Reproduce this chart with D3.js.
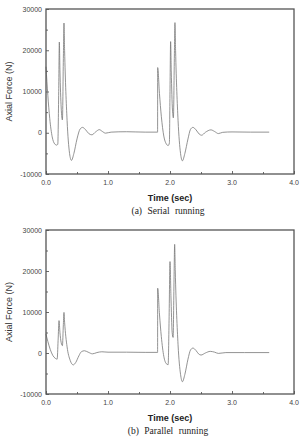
<!DOCTYPE html>
<html>
<head>
<meta charset="utf-8">
<script src="https://cdn.jsdelivr.net/npm/d3@7"></script>
<style>
  body { margin: 0; background: #fff; }
  svg { display: block; }
</style>
</head>
<body>
<svg id="chart" width="300" height="437"></svg>
<script>
// axis ticks
var xTicks = [0, 1, 2, 3, 4]
var xTickLabels = ["0.0", "1.0", "2.0", "3.0", "4.0"]
var yTicks = [-10000, 0, 10000, 20000, 30000]

// (a) serial running
var serialTime = [0, 0.03, 0.06, 0.1, 0.14, 0.17, 0.19, 0.205, 0.215, 0.225, 0.245, 0.265, 0.28, 0.29, 0.30,
  0.34, 0.38, 0.41, 0.45, 0.5, 0.55, 0.59, 0.64, 0.69, 0.74, 0.8, 0.86, 0.91, 0.96, 1.05, 1.3, 1.6, 1.8,
  1.801, 1.83, 1.86, 1.9, 1.94, 1.97, 1.99, 2.0, 2.01, 2.02, 2.04, 2.055, 2.07, 2.08, 2.09, 2.13, 2.17, 2.2,
  2.24, 2.29, 2.33, 2.37, 2.42, 2.47, 2.51, 2.57, 2.66, 2.72, 2.78, 2.85, 3.0, 3.3, 3.6]
var serialForce = [16000, 9000, 3500, -1000, -2700, -3000, -2800, 10000, 22000, 15000, 6000, 3100, 18000, 26600, 20000,
  3000, -5000, -6700, -5000, -1500, 900, 1300, 700, -200, -500, 200, 750, 300, -100, 150, 250, 150, 150,
  15800, 9500, 4000, -800, -2700, -3100, -2500, 10000, 22100, 15000, 5500, 3600, 18000, 26700, 20000, 3000, -5000, -6800,
  -5000, -1500, 800, 1300, 700, -300, -600, 100, 700, 300, -200, 100, 200, 150, 150]

// (b) parallel running
var parallelTime = [0, 0.03, 0.07, 0.11, 0.15, 0.18, 0.195, 0.21, 0.225, 0.245, 0.265, 0.28, 0.29, 0.30, 0.34,
  0.39, 0.44, 0.48, 0.53, 0.57, 0.62, 0.68, 0.75, 0.82, 0.9, 1.0, 1.3, 1.6, 1.8,
  1.801, 1.83, 1.86, 1.9, 1.94, 1.97, 1.985, 2.0, 2.015, 2.035, 2.05, 2.065, 2.075, 2.085, 2.13, 2.17, 2.2,
  2.24, 2.29, 2.33, 2.37, 2.42, 2.46, 2.5, 2.57, 2.65, 2.72, 2.78, 2.9, 3.2, 3.6]
var parallelForce = [4600, 2800, 800, -600, -1300, -1500, 3000, 7900, 5000, 2500, 1800, 7000, 9900, 7500, 1500,
  -1800, -2900, -2300, -700, 300, 550, 200, -200, 100, 300, 200, 200, 150, 150,
  15800, 9500, 4000, -800, -2600, -2850, 8000, 22300, 14000, 5000, 3800, 18000, 26500, 20000, 2000, -5200, -7000,
  -5200, -1500, 700, 1200, 600, -200, -500, 0, 400, 200, -100, 100, 100, 100]

var svg = d3.select("#chart")
var font = "'Liberation Sans', Arial, sans-serif"

function drawPanel(top, bottom, time, force, caption) {
  var left = 46, right = 294
  var x = d3.scaleLinear().domain([0, 4]).range([left, right])
  var y = d3.scaleLinear().domain([-10000, 30000]).range([bottom, top])
  var g = svg.append("g")

  // inward ticks, major and minor
  var xAxis = d3.axisTop(x).tickValues(xTicks).tickSize(3).tickFormat("")
  var xMinor = d3.axisTop(x).tickValues([0.5, 1.5, 2.5, 3.5]).tickSize(2).tickFormat("")
  var yAxis = d3.axisRight(y).tickValues(yTicks).tickSize(3).tickFormat("")
  var yMinor = d3.axisRight(y).tickValues([-5000, 5000, 15000, 25000]).tickSize(2).tickFormat("")
  ;[[xAxis, "translate(0," + bottom + ")"], [xMinor, "translate(0," + bottom + ")"],
    [yAxis, "translate(" + left + ",0)"], [yMinor, "translate(" + left + ",0)"]].forEach(function(a) {
    var ax = g.append("g").attr("transform", a[1]).call(a[0])
    ax.select(".domain").remove()
    ax.selectAll("line").attr("stroke", "#444").attr("stroke-width", 0.8)
  })

  // tick labels
  g.selectAll(".xl").data(xTicks).enter().append("text")
    .attr("x", d => x(d)).attr("y", bottom + 11)
    .attr("text-anchor", "middle")
    .style("font", "7px " + font).style("fill", "#444")
    .text((d, i) => xTickLabels[i])
  g.selectAll(".yl").data(yTicks).enter().append("text")
    .attr("x", left - 4).attr("y", d => y(d) + 2.5)
    .attr("text-anchor", "end")
    .style("font", "7px " + font).style("fill", "#444")
    .text(d => d)

  var line = d3.line()
    .x((d, i) => x(time[i]))
    .y(d => y(d))
    .curve(d3.curveMonotoneX)
  g.append("path")
    .datum(force)
    .attr("d", line)
    .attr("fill", "none")
    .attr("stroke", "#777")
    .attr("stroke-width", 0.8)

  g.append("rect")
    .attr("x", left).attr("y", top)
    .attr("width", right - left).attr("height", bottom - top)
    .attr("fill", "none").attr("stroke", "#555").attr("stroke-width", 1.3)

  g.append("text")
    .attr("transform", "translate(12," + ((top + bottom) / 2) + ") rotate(-90)")
    .attr("text-anchor", "middle")
    .style("font", "9px " + font).style("fill", "#333")
    .text("Axial Force (N)")
  g.append("text")
    .attr("x", 170).attr("y", bottom + 27)
    .attr("text-anchor", "middle")
    .style("font", "bold 9px " + font).style("fill", "#222")
    .text("Time (sec)")
  g.append("text")
    .attr("x", 168).attr("y", bottom + 40)
    .attr("text-anchor", "middle")
    .style("font", "9.5px 'Liberation Serif', 'Times New Roman', serif").style("fill", "#222")
    .style("word-spacing", "3px")
    .text(caption)
}

drawPanel(9, 174, serialTime, serialForce, "(a) Serial running")
drawPanel(230, 394, parallelTime, parallelForce, "(b) Parallel running")
</script>
</body>
</html>
